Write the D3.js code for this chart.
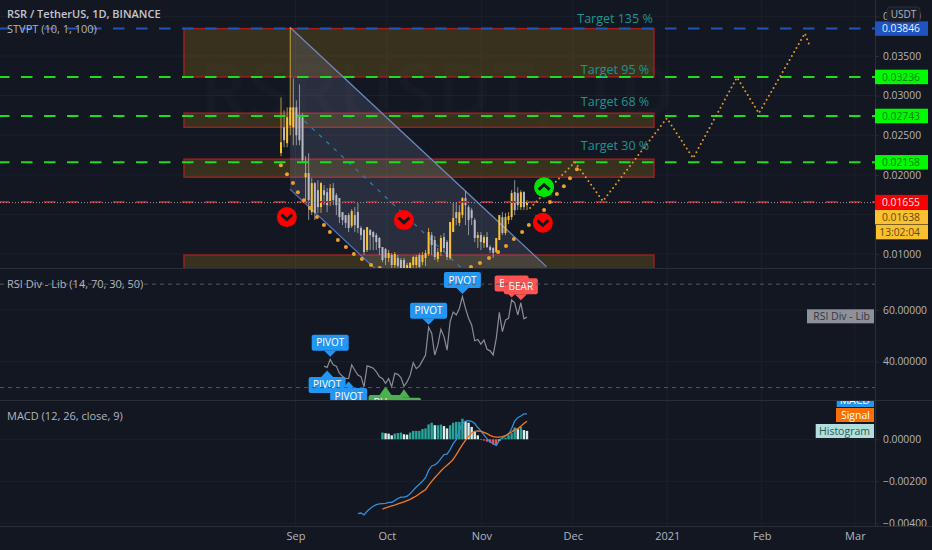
<!DOCTYPE html>
<html><head><meta charset="utf-8">
<script src="https://cdn.jsdelivr.net/npm/d3@7"></script>
<style>html,body{margin:0;padding:0;background:#131722;overflow:hidden}svg{display:block;font-family:"Open Sans",sans-serif}</style>
</head><body><svg id="c" width="932" height="550"></svg>
<script>
// ---- data ----
const open  = [.02273,.02600,.02399,.02625,.02600,.02852,.02751,.02726,.01970,.02021,.01529,.01895,.01806,.01592,.01806,.01781,.01655,.01832,.01743,.01706,.01529,.01491,.01491,.01353,.01491,.01529,.01328,.01302,.01050,.01302,.01277,.01239,.01202,.01088,.01063,.00950,.00987,.00861,.00950,.00924,.00924,.00798,.00798,.00861,.00861,.00987,.00899,.00950,.01000,.01239,.01176,.00937,.01025,.01214,.01151,.00950,.01277,.01529,.01391,.01491,.01706,.01592,.01554,.01428,.01202,.01239,.01139,.01214,.01088,.01076,.01025,.01176,.01466,.01265,.01428,.01466,.01781,.01769,.01592,.01781,.01617];
const close = [.02411,.02436,.02726,.02852,.02852,.02499,.02436,.02184,.02021,.01680,.01895,.01517,.01592,.01895,.01743,.01617,.01832,.01680,.01617,.01466,.01428,.01391,.01328,.01542,.01365,.01328,.01239,.01025,.01340,.01239,.01214,.01151,.01076,.00924,.00950,.01013,.00861,.01000,.00849,.00824,.00798,.00861,.00887,.00962,.00962,.00836,.00987,.01013,.01277,.01113,.00962,.01025,.01202,.01076,.00962,.01403,.01454,.01454,.01529,.01706,.01617,.01428,.01454,.01202,.01239,.01151,.01214,.01088,.01050,.01013,.01202,.01491,.01265,.01466,.01479,.01769,.01554,.01617,.01781,.01592,.01655];
const high  = [.02978,.02814,.02852,.0386,.03218,.02940,.03142,.02777,.02235,.02273,.01958,.01907,.01932,.01907,.01869,.01832,.01882,.01895,.01769,.01706,.01529,.01491,.01517,.01567,.01592,.01643,.01353,.01315,.01340,.01315,.01290,.01265,.01214,.01088,.01076,.01050,.01013,.01025,.00987,.00950,.00950,.00887,.00899,.00975,.00987,.01013,.01025,.01050,.01328,.01277,.01227,.01076,.01239,.01265,.01176,.01403,.01643,.01655,.01617,.01718,.01794,.01617,.01580,.01454,.01277,.01277,.01239,.01277,.01113,.01088,.01202,.01491,.01529,.01517,.01529,.01806,.01932,.01844,.01806,.01794,.01680];
const low   = [.02235,.02348,.02348,.02499,.02373,.02373,.02373,.02147,.01680,.01428,.01491,.01428,.01517,.01517,.01617,.01529,.01605,.01617,.01491,.01391,.01365,.01328,.01277,.01328,.01277,.01265,.01176,.00987,.01025,.01050,.01050,.01050,.00987,.00899,.00861,.00899,.00824,.00824,.00824,.00798,.00798,.00798,.00798,.00824,.00824,.00824,.00861,.00849,.00975,.00987,.00924,.00899,.00975,.01025,.00924,.00924,.01277,.01365,.01353,.01454,.01365,.01239,.01365,.01151,.01076,.01050,.01076,.01076,.01013,.00950,.01013,.01176,.01239,.01239,.01378,.01428,.01491,.01554,.01554,.01554,.01554];

const rsiStart = 14;
const rsi = [38.3,37.8,40.9,38.8,38.3,35.5,34.4,33.5,33.5,38.8,36.7,34.8,34.2,30.3,38.4,38.0,37.5,36.1,34.2,33.5,31.6,33.5,30.3,35.5,35.1,33.9,30.5,32.2,34.7,39.6,37.3,38.3,40.4,42.6,53.3,51.0,42.6,46.4,52.5,49.7,44.5,55.5,59.2,58.1,60.6,65.2,60.6,56.8,54.2,48.1,48.6,46.8,48.4,44.8,44.2,42.6,49.0,59.1,51.6,56.1,56.8,63.9,62.8,58.1,62.8,56.6,57.3];
const pivotHighIdx = [16,48,59];
const pivotLowIdx = [15,22];
const bullIdx = [34,40];
const bearIdx = [75,78];

const macdStart = 25;
const macd = [-.00354,-.00351,-.00360,-.00343,-.00330,-.00319,-.00311,-.00308,-.00306,-.00305,-.00300,-.00300,-.00292,-.00282,-.00275,-.00275,-.00271,-.00259,-.00243,-.00227,-.00214,-.00200,-.00183,-.00148,-.00127,-.00122,-.00111,-.00092,-.00073,-.00071,-.00049,-.00021,-.00002,.00043,.00075,.00087,.00089,.00086,.00075,.00056,.00040,.00021,.00003,-.00013,-.00021,-.00029,-.00005,.00008,.00016,.00022,.00051,.00087,.00103,.00111,.00121,.00121];
const signalStart = 33;
const signal = [-.00332,-.00327,-.00322,-.00317,-.00313,-.00308,-.00303,-.00298,-.00292,-.00286,-.00278,-.00270,-.00259,-.00249,-.00240,-.00219,-.00200,-.00183,-.00167,-.00151,-.00136,-.00124,-.00111,-.00095,-.00073,-.00049,-.00025,-.00005,.00014,.00030,.00038,.00040,.00038,.00033,.00027,.00019,.00013,.00010,.00010,.00013,.00017,.00027,.00035,.00046,.00051,.00062,.00075,.00086];
const hist = [.00032,.00029,.00027,.00019,.00027,.00030,.00032,.00024,.00022,.00032,.00040,.00040,.00040,.00049,.00052,.00071,.00079,.00067,.00067,.00070,.00063,.00052,.00067,.00079,.00083,.00083,.00098,.00087,.00079,.00059,.00035,.00019,-.00003,-.00006,-.00011,-.00016,-.00025,-.00029,-.00008,.00005,.00008,.00019,.00029,.00056,.00048,.00059,.00044,.00040];

const targetPrices = [.03236,.02743,.02158];
const bluePrice = .03846, redPrice = .01655, lastPrice = .01638;
const countdown = "13:02:04";
const zones = [[.03846,.03236],[.02778,.02600],[.02198,.01970],[.00987,.00700]];
const targetNames = ["Target 135 %","Target 95 %","Target 68 %","Target 30 %"];
const targetTextPrices = [.03968,.03335,.02925,.02365];

const channelDays = [-1.8,82.4], channelTop=[.03863,.0084], channelMid=[.02852,-.00184], channelBot=[.01819,-.01205];

const bigDotDays = [-4.76,-2.79,-.82,.82,2.79,4.76,7.06,9.35,11.32,13.95,16.57,19.2,21.8,24.8,27.7,57.6,60.55,63.5,66.5,69.1,71.7,74.4,76.6,79.3,81.6,83.5,85.8,88.1,90.1,92.4];
const bigDotPrices = [.02121,.02008,.01895,.01781,.0168,.0158,.01466,.01365,.01277,.01176,.01088,.01,.00937,.00861,.00824,.00836,.00887,.0095,.01025,.01101,.01189,.01277,.01365,.01466,.01554,.01655,.01756,.01857,.01958,.02071];
const pathDays = [77,91.7,100.9,121.9,130.5,144.9,152.1,167.2,168.6];
const pathPrices = [.0158,.0216,.01668,.02714,.0221,.0323,.02777,.03785,.03646];

const sellDays = [-2.8,35.6,81.2], sellPrices=[.01466,.01428,.01394];
const buyDays = [81.6], buyPrices=[.01844];

const priceTicks = [.01,.015,.02,.025,.03,.035,.04];
const rsiTicks = [40,60];
const macdTicks = [0,-.002,-.004];
const timeTickDates = [new Date(2020,8,1),new Date(2020,9,1),new Date(2020,10,1),new Date(2020,11,1),new Date(2021,0,1),new Date(2021,1,1),new Date(2021,2,3,14)];
const timeTickLabels = ["Sep","Oct","Nov","Dec","2021","Feb","Mar"];

// ---- scales ----
const W=932,H=550,axisX=875,p1=268,p2=400,p3=526;
const sep1 = timeTickDates[0];
const x = d3.scaleTime().domain([sep1,new Date(2021,2,1)]).range([295.5,847]);
const dayX = d => x(d3.timeHour.offset(sep1, d*24));
const idxX = d3.scaleLinear().domain([0,open.length-1]).range([281,527]);
const y = d3.scaleLinear().domain([.01,.035]).range([254,56]);
const yR = d3.scaleLinear().domain([40,60]).range([361.7,310]);
const yM = d3.scaleLinear().domain([0,-.002]).range([439.3,481.3]);
const yH = yM;

const svg = d3.select("#c");
const defs = svg.append("defs");
const clip=(id,yy,h)=>defs.append("clipPath").attr("id",id).append("rect").attr("x",0).attr("y",yy).attr("width",axisX).attr("height",h);
clip("cp1",0,p1); clip("cp2",p1+1,p2-p1-1); clip("cp3",p2+1,p3-p2-1);
const GRID="#1c202b", BORDER="#2a2e39", TXT="#b2b5be";

svg.append("rect").attr("width",W).attr("height",H).attr("fill","#131722");

// ---- grid ----
const grid = svg.append("g");
grid.selectAll(".gv").data(timeTickDates).join("line").attr("x1",d=>x(d)).attr("x2",d=>x(d)).attr("y1",0).attr("y2",p3).attr("stroke",GRID);
[[priceTicks,y],[rsiTicks,yR],[macdTicks,yM]].forEach(([t,s])=>grid.selectAll(null).data(t).join("line").attr("x1",0).attr("x2",axisX).attr("y1",d=>s(d)).attr("y2",d=>s(d)).attr("stroke",GRID));

// ---- price pane ----
const g1 = svg.append("g").attr("clip-path","url(#cp1)");
g1.append("text").attr("x",437).attr("y",118).attr("text-anchor","middle").attr("font-size",76).attr("font-weight",600).attr("fill","#ffffff").attr("fill-opacity",.014).text("RSRUSDT, 1D");

g1.selectAll(".zone").data(zones).join("rect").attr("x",184).attr("width",470)
  .attr("y",d=>y(d[0])).attr("height",d=>y(d[1])-y(d[0]))
  .attr("fill","#8a6d14").attr("fill-opacity",.31).attr("stroke","#a31f22").attr("stroke-width",1.4);

g1.append("polygon").attr("points",[
  [dayX(channelDays[0]),y(channelTop[0])],[dayX(channelDays[1]),y(channelTop[1])],
  [dayX(channelDays[1]),y(channelBot[1])],[dayX(channelDays[0]),y(channelBot[0])]].join(" "))
  .attr("fill","#9aa3c8").attr("fill-opacity",.17);
const ln=(g,a,b,st,w,da)=>g.append("line").attr("x1",dayX(channelDays[0])).attr("x2",dayX(channelDays[1])).attr("y1",y(a)).attr("y2",y(b)).attr("stroke",st).attr("stroke-width",w).attr("stroke-dasharray",da||null);
ln(g1,channelTop[0],channelTop[1],"#6f8ac4",1.2);
ln(g1,channelBot[0],channelBot[1],"#4f78c4",1.2);
ln(g1,channelMid[0],channelMid[1],"#2b7fb8",1.2,"4 6");

const UP="#fbc234", DOWN="#b9bbc4";
const idx = d3.range(open.length);
const candleCol = i => close[i]>=open[i]?UP:DOWN;
g1.selectAll(".wick").data(idx).join("line").attr("x1",i=>idxX(i)).attr("x2",i=>idxX(i)).attr("y1",i=>y(high[i])).attr("y2",i=>y(low[i])).attr("stroke",candleCol).attr("stroke-opacity",.72).attr("stroke-width",1);
g1.selectAll(".body").data(idx).join("rect").attr("x",i=>idxX(i)-1).attr("width",2).attr("y",i=>y(Math.max(open[i],close[i]))).attr("height",i=>Math.max(1,Math.abs(y(open[i])-y(close[i])))).attr("fill",candleCol);

// horizontal dashed levels
const hd=(p,col,w)=>svg.append("line").attr("x1",0).attr("x2",axisX).attr("y1",y(p)).attr("y2",y(p)).attr("stroke",col).attr("stroke-width",w).attr("stroke-dasharray","11.5 11.5").attr("stroke-dashoffset",2);
hd(bluePrice,"#1f56b8",2);
targetPrices.forEach(p=>hd(p,"#1fdc1f",2));
hd(redPrice,"#b5202a",2);
svg.append("line").attr("x1",0).attr("x2",axisX).attr("y1",y(redPrice)+.5).attr("y2",y(redPrice)+.5).attr("stroke","#9a9ca6").attr("stroke-dasharray","1 2");

// projection dots
const g1b = svg.append("g").attr("clip-path","url(#cp1)");
const pathLine = d3.line().x(d=>dayX(d[0])).y(d=>y(d[1]));
g1b.append("path").attr("d",pathLine(d3.zip(pathDays,pathPrices))).attr("fill","none").attr("stroke","#e39a2c").attr("stroke-width",2).attr("stroke-linecap","round").attr("stroke-dasharray","0 4.6");
g1b.selectAll(".bd").data(bigDotDays).join("circle").attr("cx",d=>dayX(d)).attr("cy",(d,i)=>y(bigDotPrices[i])).attr("r",2).attr("fill","#eda02c");

// signals
function signalMark(d,p,fill,up){
  const cx=dayX(d), cy=y(p), s=up?-1:1;
  g1b.append("circle").attr("cx",cx).attr("cy",cy).attr("r",10).attr("fill",fill);
  g1b.append("path").attr("d",`M${cx-5.5},${cy-2.5*s}L${cx},${cy+2.5*s}L${cx+5.5},${cy-2.5*s}`).attr("fill","none").attr("stroke","#131722").attr("stroke-width",3);
}
sellDays.forEach((d,i)=>signalMark(d,sellPrices[i],"#ff0000",false));
buyDays.forEach((d,i)=>signalMark(d,buyPrices[i],"#00e600",true));

// target labels
svg.selectAll(".tg").data(targetNames).join("text").attr("x",615).attr("y",(d,i)=>y(targetTextPrices[i])+4.5).attr("text-anchor","middle").attr("font-size",12.5).attr("fill","#1f9490").text(d=>d);

// ---- RSI pane ----
const g2 = svg.append("g").attr("clip-path","url(#cp2)");
[[70,"#55585f"],[30,"#8d3a5e"]].forEach(([v,c])=>svg.append("line").attr("x1",0).attr("x2",axisX).attr("y1",yR(v)).attr("y2",yR(v)).attr("stroke",c).attr("stroke-dasharray","4 4"));
g2.append("path").attr("d",d3.line().x((d,i)=>idxX(i+rsiStart)).y(d=>yR(d))(rsi)).attr("fill","none").attr("stroke","#8b8d96").attr("stroke-width",1.2);
function lab(i,text,fill,dir,w,ph){
  const tipX=idxX(i), v=rsi[i-rsiStart], tipY=yR(v)+(dir>0?-2.5:3), bh=16;
  const y0=dir>0?tipY-ph-bh:tipY+ph;
  const g=g2.append("g");
  g.append("rect").attr("x",tipX-w/2).attr("y",y0).attr("width",w).attr("height",bh).attr("rx",2).attr("fill",fill);
  const by=dir>0?tipY-ph:tipY+ph;
  g.append("path").attr("d",`M${tipX-6},${by}L${tipX},${tipY}L${tipX+6},${by}Z`).attr("fill",fill);
  g.append("text").attr("x",tipX).attr("y",y0+11.5).attr("text-anchor","middle").attr("font-size",10).attr("fill","#fff").text(text);
}
pivotHighIdx.forEach(i=>lab(i,"PIVOT","#2196f3",1,37,6));
pivotLowIdx.forEach(i=>lab(i,"PIVOT","#2196f3",-1,37,6.5));
bullIdx.forEach(i=>lab(i,"BULL","#4caf50",-1,34,8.5));
bearIdx.forEach(i=>lab(i,"BEAR","#ff5252",1,34,6));

// ---- MACD pane ----
const g3 = svg.append("g").attr("clip-path","url(#cp3)");
const hCol=(v,i)=>{const pv=i?hist[i-1]:v; return v>=0?(v>=pv?"#26a69a":"#d5efec"):(v<pv?"#ef5350":"#ffcdd2");};
g3.selectAll(".h").data(hist).join("rect").attr("x",(d,i)=>idxX(i+signalStart)-1.2).attr("width",2.4)
  .attr("y",d=>Math.min(yH(d),yH(0))).attr("height",d=>Math.abs(yH(d)-yH(0))).attr("fill",hCol);
g3.append("path").attr("d",d3.line().x((d,i)=>idxX(i+macdStart)).y(d=>yM(d))(macd)).attr("fill","none").attr("stroke","#2f8fdc").attr("stroke-width",1.3);
g3.append("path").attr("d",d3.line().x((d,i)=>idxX(i+signalStart)).y(d=>yM(d))(signal)).attr("fill","none").attr("stroke","#f07a22").attr("stroke-width",1.3);

// ---- pane borders ----
[p1,p2,p3].forEach(v=>svg.append("line").attr("x1",0).attr("x2",W).attr("y1",v+.5).attr("y2",v+.5).attr("stroke",BORDER));
svg.append("line").attr("x1",axisX+.5).attr("x2",axisX+.5).attr("y1",0).attr("y2",p3).attr("stroke",BORDER);

// ---- axes ----
function styleAxis(g,fs){g.select(".domain").remove();g.selectAll("line").attr("stroke",BORDER);g.selectAll("text").attr("fill",TXT).style("font-size",(fs||10.3)+"px").style("font-family",'"Open Sans",sans-serif');}
svg.append("g").attr("transform",`translate(${axisX},0)`).call(d3.axisRight(y).tickValues(priceTicks).tickFormat(d3.format(".5f")).tickSize(4).tickPadding(4)).call(styleAxis);
svg.append("g").attr("transform",`translate(${axisX},0)`).call(d3.axisRight(yR).tickValues(rsiTicks).tickFormat(d3.format(".5f")).tickSize(4).tickPadding(4)).call(styleAxis);
defs.append("clipPath").attr("id","cpA").append("rect").attr("x",axisX).attr("y",p2).attr("width",W-axisX).attr("height",p3-p2);
svg.append("g").attr("clip-path","url(#cpA)").append("g").attr("transform",`translate(${axisX},0)`).call(d3.axisRight(yM).tickValues(macdTicks).tickFormat(d3.format(".5f")).tickSize(4).tickPadding(4)).call(styleAxis);
svg.append("g").attr("transform",`translate(0,${p3+1})`).call(d3.axisBottom(x).tickValues(timeTickDates).tickFormat((d,i)=>timeTickLabels[i]).tickSize(0).tickPadding(5)).call(g=>styleAxis(g,11));

// ---- axis tags ----
function tag(cy,label,fill,col,x0){
  const x_=x0||axisX, xe=928, h=14.5;
  svg.append("rect").attr("x",x_).attr("y",cy-h/2).attr("width",xe-x_).attr("height",h).attr("fill",fill);
  svg.append("text").attr("x",920).attr("y",cy+3.7).attr("text-anchor","end").attr("font-size",10.3).attr("fill",col).text(label);
}
const fm=d3.format(".5f");
tag(y(bluePrice),fm(bluePrice),"#1e53c0","#e8f0ff");
targetPrices.forEach(p=>tag(y(p),fm(p),"#00fa00","#0d7d12"));
tag(y(redPrice),fm(redPrice),"#fa0000","#ffe8e8");
tag(y(lastPrice)+13.6,fm(lastPrice),"#fbc02d","#5a4a20");
tag(y(lastPrice)+28.6,countdown,"#fbc02d","#5a4a20",876);

// USDT box
svg.append("rect").attr("x",887).attr("y",7).attr("width",33).attr("height",15).attr("rx",3).attr("fill","#1a1e29").attr("stroke","#2a2e39");
svg.append("text").attr("x",903.5).attr("y",18.3).attr("text-anchor","middle").attr("font-size",10).attr("fill",TXT).text("USDT");

// pane series tags
function ptag(x0,y0,y1,text,fill,col){
  svg.append("rect").attr("x",x0).attr("y",y0).attr("width",axisX-1-x0).attr("height",y1-y0).attr("fill",fill);
  svg.append("text").attr("x",axisX-5).attr("y",(y0+y1)/2+3.7).attr("text-anchor","end").attr("font-size",10.5).attr("fill",col).text(text);
}
defs.append("clipPath").attr("id","cpM").append("rect").attr("x",830).attr("y",p2+1).attr("width",50).attr("height",6);
svg.append("rect").attr("x",836.7).attr("y",p2+1).attr("width",37.3).attr("height",6).attr("fill","#2196f3");
svg.append("text").attr("clip-path","url(#cpM)").attr("x",870).attr("y",404).attr("text-anchor","end").attr("font-size",10.5).attr("fill","#fff").text("MACD");
ptag(807,309.3,323.3,"RSI Div - Lib","#8f919a","#35363f");
ptag(836,408,422,"Signal","#ff6d00","#fff");
ptag(815.7,424,438,"Histogram","#b2dfdb","#2b5a5a");

// ---- legends ----
const leg=(yy,t,w,col)=>svg.append("text").attr("x",7).attr("y",yy).attr("font-size",11).attr("font-weight",w).attr("fill",col).text(t);
leg(18,"RSR / TetherUS, 1D, BINANCE",600,"#c3c6ce");
leg(33,"STVPT (10, 1, 100)",400,TXT);
leg(288,"RSI Div - Lib (14, 70, 30, 50)",400,TXT);
leg(420,"MACD (12, 26, close, 9)",400,TXT);
</script></body></html>
